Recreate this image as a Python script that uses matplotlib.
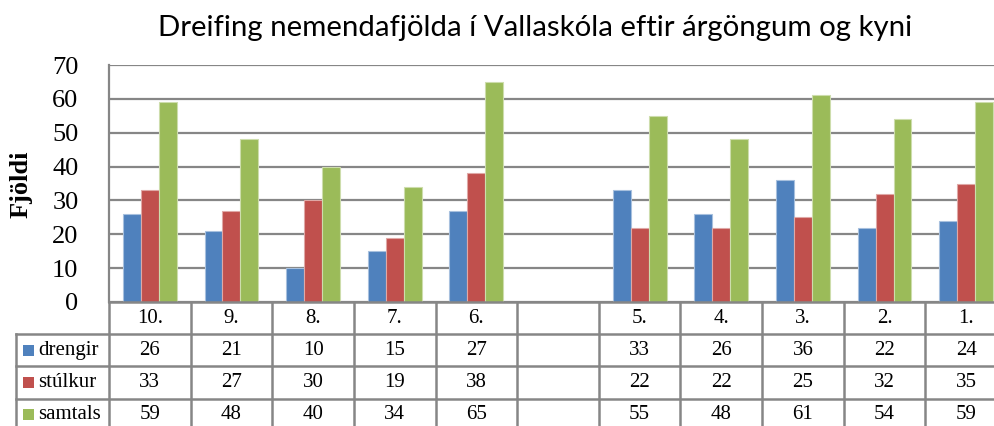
import numpy as np
import matplotlib
matplotlib.use("Agg")
import matplotlib.pyplot as plt

# data (empty slot between 6. and 5.)
argangar = ["10.", "9.", "8.", "7.", "6.", "", "5.", "4.", "3.", "2.", "1."]
drengir = [26, 21, 10, 15, 27, None, 33, 26, 36, 22, 24]
stulkur = [33, 27, 30, 19, 38, None, 22, 22, 25, 32, 35]
samtals = [59, 48, 40, 34, 65, None, 55, 48, 61, 54, 59]
series_names = ["drengir", "stúlkur", "samtals"]
series_colors = ["#4F81BD", "#C0504D", "#9BBB59"]
edge_colors = ["#A7C0DE", "#DFA8A6", "#CDDDAC"]
yticks = [0, 10, 20, 30, 40, 50, 60, 70]

W, H = 995, 426
fig = plt.figure(figsize=(W / 100, H / 100), dpi=100)

def box(l, t, r, b):
    # pixel box -> figure fraction
    return [l / W, 1 - b / H, (r - l) / W, (b - t) / H]

left, right, top, base = 109, 1007, 65, 302
row_h = 32.2
ax = fig.add_axes(box(left, top, right, base))
tab = fig.add_axes(box(16, base, right, base + 4 * row_h))

n = len(argangar)
x = np.arange(n)
bw = 0.22
grid_c = "#868686"

all_series = [drengir, stulkur, samtals]
for i, (vals, col, ec) in enumerate(zip(all_series, series_colors, edge_colors)):
    xs = [xx + (i - 1) * bw for xx, v in zip(x, vals) if v is not None]
    vs = [v for v in vals if v is not None]
    ax.bar(xs, vs, width=bw, color=col, edgecolor=ec, linewidth=0.8, zorder=3)

ax.set_xlim(-0.5, n - 0.5)
ax.set_ylim(0, 70)
ax.set_yticks(yticks)
ax.yaxis.grid(True, color=grid_c, linewidth=1.6, zorder=0)
ax.set_xticks([])
ax.tick_params(axis="y", length=0, pad=22)
for lab in ax.get_yticklabels():
    lab.set_fontfamily("Liberation Serif")
    lab.set_fontsize(19)
for s in ["top", "right", "bottom"]:
    ax.spines[s].set_visible(False)
ax.spines["left"].set_color(grid_c)
ax.spines["left"].set_linewidth(1.6)
fig.text(21 / W, 1 - 184 / H, "Fjöldi", rotation=90, ha="center", va="center",
         fontfamily="Liberation Serif", fontweight="bold", fontsize=19)

fig.text(535 / W, 1 - 28 / H, "Dreifing nemendafjölda í Vallaskóla eftir árgöngum og kyni",
         ha="center", va="center", fontfamily="Lato", fontsize=21.2)

# data table under the chart
key_w = (left - 16) / ((right - left) / n)
tab.set_xlim(-0.5 - key_w, n - 0.5)
tab.set_ylim(4, 0)
tab.axis("off")
lw = 1.8
tab.plot([-0.5, n - 0.5], [0, 0], color=grid_c, lw=lw, clip_on=False)
for r in range(1, 5):
    tab.plot([-0.5 - key_w, n - 0.5], [r, r], color=grid_c, lw=lw, clip_on=False)
for c in range(n + 1):
    tab.plot([c - 0.5, c - 0.5], [0, 4], color=grid_c, lw=lw, clip_on=False)
tab.plot([-0.5 - key_w] * 2, [1, 4], color=grid_c, lw=lw, clip_on=False)

serif = "Liberation Serif"
for c, lab in enumerate(argangar):
    tab.text(c, 0.5, lab, ha="center", va="center", fontfamily=serif, fontsize=15)
for r, (name, vals, col) in enumerate(zip(series_names, all_series, series_colors)):
    yy = r + 1.5
    tab.add_patch(plt.Rectangle((-0.5 - key_w + 0.085, yy - 0.17), 0.135, 0.34,
                                facecolor=col, edgecolor="none", clip_on=False))
    tab.text(-0.5 - key_w + 0.27, yy, name, ha="left", va="center",
             fontfamily=serif, fontsize=15)
    for c, v in enumerate(vals):
        if v is not None:
            tab.text(c, yy, str(v), ha="center", va="center", fontfamily=serif, fontsize=15)

fig.savefig("out.png", dpi=100)
